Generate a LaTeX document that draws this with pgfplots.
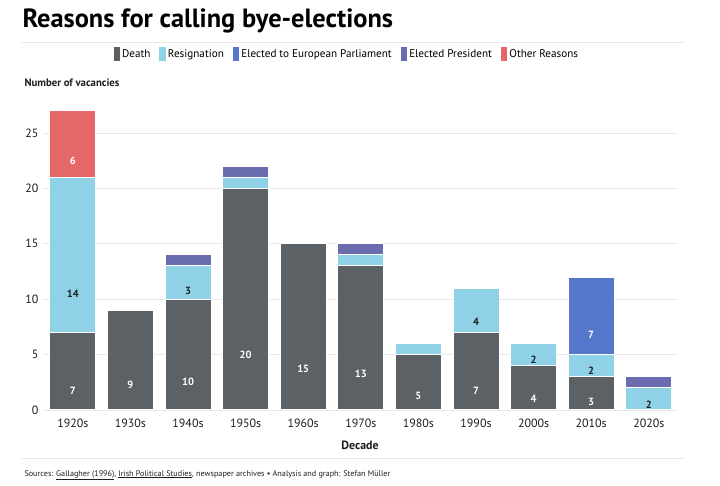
\documentclass[border=0pt]{standalone}
\usepackage{fontspec}
\setmainfont{PT Sans}
\usepackage{pgfplots}
\pgfplotsset{compat=1.18}
\usepackage{pgfplotstable}

\definecolor{cdeath}{HTML}{5B6165}
\definecolor{cresig}{HTML}{8FD2E8}
\definecolor{ceu}{HTML}{5577CC}
\definecolor{cpres}{HTML}{6B6BB0}
\definecolor{cother}{HTML}{E46868}
\definecolor{ctext}{HTML}{1E1E1E}
\definecolor{cgrid}{HTML}{E8E8E8}

% decade index, death, resignation, EU parliament, president, other
\pgfplotstableread{
x d r e p o
0 7 14 0 0 6
1 9 0 0 0 0
2 10 3 0 1 0
3 20 1 0 1 0
4 15 0 0 0 0
5 13 1 0 1 0
6 5 1 0 0 0
7 7 4 0 0 0
8 4 2 0 0 0
9 3 2 7 0 0
10 0 2 0 1 0
}\vacancies

\pgfplotsset{
  seg/.style={fill=#1, draw=white, line width=1bp},
  seglabel/.style={
    visualization depends on={\thisrow{#1}\as\segval},
    nodes near coords={\ifdim\segval pt>1.5pt \pgfmathprintnumber{\segval}\fi},
    every node near coord/.append style={anchor=center, font=\bfseries\fontsize{10.5}{10}\selectfont,
      yshift=-\segval*2.77bp}},
}

\begin{document}
\begin{tikzpicture}
\path[use as bounding box, fill=white] (0,0) rectangle (720bp,486bp);
\begin{axis}[
  at={(44bp,76bp)}, anchor=south west,
  scale only axis, width=633.6bp, height=310.24bp,
  xmin=-0.5, xmax=10.5, ymin=0, ymax=28,
  ybar stacked, bar width=46bp,
  axis line style={draw=none},
  major tick style={draw=none},
  ymajorgrids, grid style={cgrid, line width=0.8bp},
  ytick={0,5,...,25},
  xtick={0,...,10},
  xticklabels={1920s,1930s,1940s,1950s,1960s,1970s,1980s,1990s,2000s,2010s,2020s},
  /pgf/number format/assume math mode=true,
  tick label style={font=\fontsize{12}{12}\selectfont, text=ctext},
  xticklabel style={yshift=-5bp},
  yticklabel style={xshift=-2bp},
  legend style={at={(0.478,1.148)}, anchor=center, draw=none, fill=none,
    legend columns=-1, font=\fontsize{11.2}{12}\selectfont,
    /tikz/every even column/.append style={column sep=7bp},
    inner sep=0pt},
  legend image code/.code={\fill[#1, draw=none] (0bp,-7bp) rectangle (6.5bp,7bp);},
  legend cell align=left,
]
\addplot[seg=cdeath, seglabel=d, every node near coord/.append style={text=white}] table[x=x, y=d] {\vacancies};
\addplot[seg=cresig, seglabel=r, every node near coord/.append style={text=ctext}] table[x=x, y=r] {\vacancies};
\addplot[seg=ceu, seglabel=e, every node near coord/.append style={text=white}] table[x=x, y=e] {\vacancies};
\addplot[seg=cpres, seglabel=p, every node near coord/.append style={text=white}] table[x=x, y=p] {\vacancies};
\addplot[seg=cother, seglabel=o, every node near coord/.append style={text=white}] table[x=x, y=o] {\vacancies};
\legend{Death, Resignation, Elected to European Parliament, Elected President, Other Reasons}
\end{axis}
\node[anchor=west, font=\bfseries\fontsize{26.5}{26}\selectfont, text=black] at (19bp,465bp) {Reasons for calling bye-elections};
\draw[cgrid, line width=0.8bp] (22bp,444bp) -- (685bp,444bp);
\node[anchor=west, font=\bfseries\fontsize{10.8}{11}\selectfont, text=ctext] at (21bp,403bp) {Number of vacancies};
\node[anchor=center, font=\bfseries\fontsize{12}{12}\selectfont, text=ctext] at (360bp,41bp) {Decade};
\draw[cgrid, line width=0.8bp] (22bp,28bp) -- (685bp,28bp);
\node[anchor=west, font=\fontsize{8.2}{9}\selectfont, text=ctext] at (21bp,11bp)
  {Sources: \underline{Gallagher (1996)}, \underline{Irish Political Studies}, newspaper archives • Analysis and graph: Stefan Müller};
\end{tikzpicture}
\end{document}
